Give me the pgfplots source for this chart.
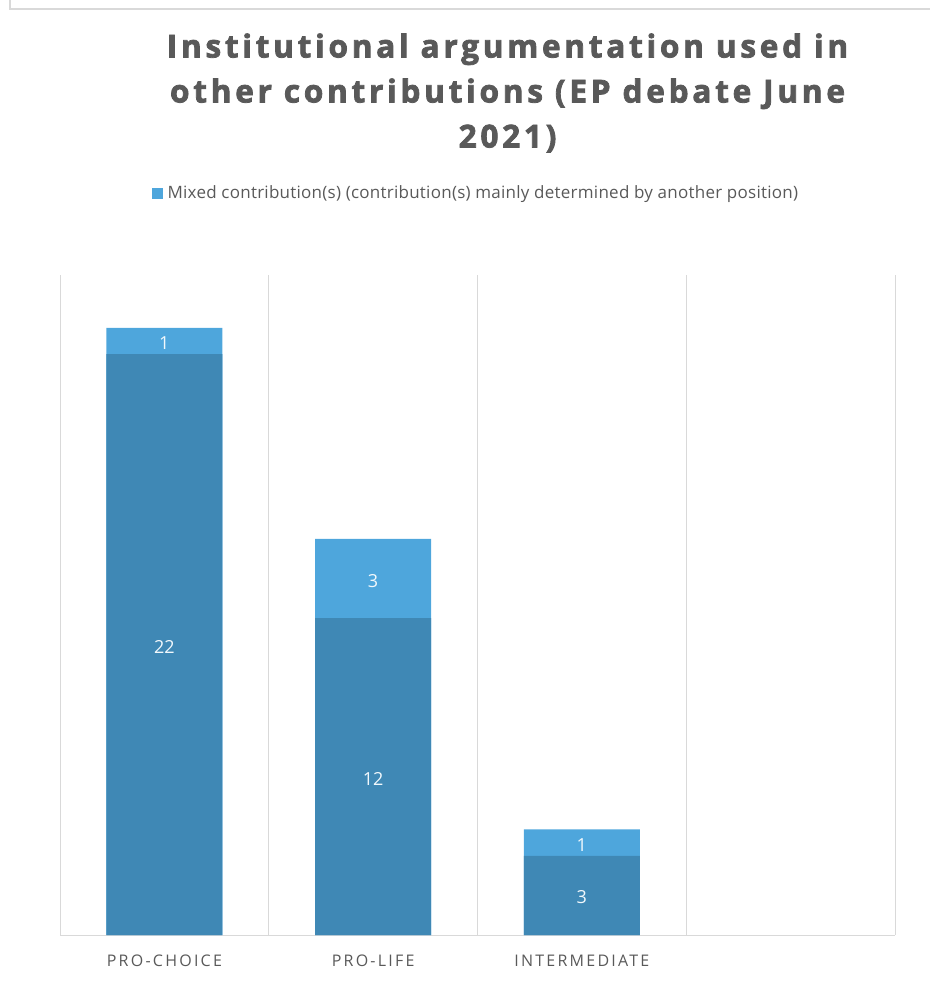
\documentclass[border=0pt]{standalone}
\usepackage{pgfplots}
\pgfplotsset{compat=1.18}
\usepackage{fontspec}
\setmainfont{Open Sans}
\newfontfamily\titlefont[LetterSpace=12,FakeBold=2.5]{Open Sans Bold}
\newfontfamily\tickfont[LetterSpace=14]{Open Sans}
\newfontfamily\legfont[LetterSpace=1.5]{Open Sans}
\definecolor{darkbar}{HTML}{3F88B5}
\definecolor{lightbar}{HTML}{4EA6DC}
\definecolor{txtgray}{HTML}{595959}
\definecolor{gridgray}{HTML}{D9D9D9}
\begin{document}
\begin{tikzpicture}[x=1pt,y=1pt]
\path[use as bounding box] (0,0) rectangle (930,1004);
\draw[gridgray,line width=1.5pt] (10,1004) -- (10,995) -- (930,995);
\begin{axis}[
  at={(60pt,69pt)}, anchor=south west,
  width=835pt, height=660pt, scale only axis,
  xmin=-0.5, xmax=3.5, ymin=0, ymax=25,
  xtick={0,1,2}, xticklabels={PRO-CHOICE,PRO-LIFE,INTERMEDIATE},
  minor xtick={-0.5,0.5,1.5,2.5,3.5},
  xminorgrids, minor grid style={gridgray, line width=1pt},
  major tick length=0pt, minor tick length=0pt,
  axis x line*=bottom, axis y line=none,
  x axis line style={gridgray, line width=1pt, -},
  ytick=\empty,
  xticklabel style={font=\tickfont\fontsize{16}{19}\selectfont, text=txtgray, yshift=-16pt},
  title={Institutional argumentation used in\\other contributions (EP debate June\\2021)},
  title style={at={(0.536,1)}, anchor=south, yshift=113pt, align=center,
    font=\titlefont\fontsize{31.5}{45}\selectfont, text=txtgray},
  legend style={at={(0.498,1.124)}, anchor=center, draw=none, fill=none,
    font=\legfont\fontsize{17}{20}\selectfont, text=txtgray},
  legend image code/.code={\fill[lightbar] (0pt,-5.5pt) rectangle (11pt,5.5pt); \path (14pt,0pt);},
  legend cell align=left,
  clip=false,
]
% total (light, top segment) drawn first
\addplot[ybar, bar width=116pt, bar shift=0pt, fill=lightbar, draw=none]
  coordinates {(0,23) (1,15) (2,4)};
\addlegendentry{Mixed contribution(s) (contribution(s) mainly determined by another position)}
% bottom segment (dark)
\addplot[ybar, bar width=116pt, bar shift=0pt, fill=darkbar, draw=none, forget plot]
  coordinates {(0,22) (1,12) (2,3)};
% labels centred in segments
\addplot[only marks, mark=none, forget plot, point meta=explicit symbolic,
  nodes near coords, nodes near coords align={center},
  every node near coord/.append style={font=\fontsize{18}{20}\selectfont, text=white!92!lightbar, yshift=-2pt}]
  coordinates {(0,11) [22] (1,6) [12] (2,1.5) [3] (0,22.5) [1] (1,13.5) [3] (2,3.5) [1]};
\end{axis}
\end{tikzpicture}
\end{document}
